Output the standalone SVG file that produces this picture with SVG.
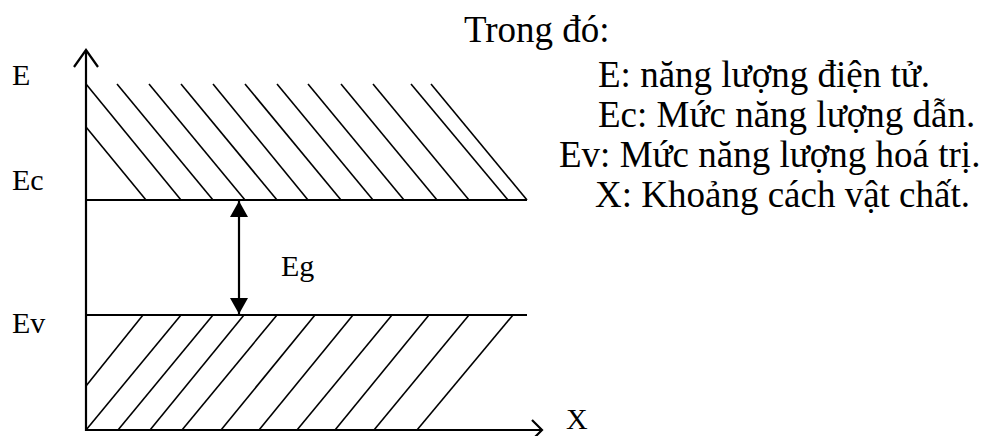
<svg xmlns="http://www.w3.org/2000/svg" width="983" height="436" viewBox="0 0 983 436">
<style>
text { font-family: "Liberation Serif", "Times New Roman", serif; fill: #000; }
.lbl { font-size: 30px; }
.leg { font-size: 37px; }
.axis { stroke: #000; stroke-width: 2.2; fill: none; }
.lvl { stroke: #000; stroke-width: 2; fill: none; }
.hatch { stroke: #000; stroke-width: 1.6; fill: none; }
.gap { stroke: #000; stroke-width: 2.2; fill: none; }
</style>
<defs>
<marker id="tri" viewBox="0 0 16 18" refX="16" refY="9" markerWidth="16" markerHeight="18" markerUnits="userSpaceOnUse" orient="auto-start-reverse">
<path d="M0,0 L16,9 L0,18 Z" fill="#000"/>
</marker>
</defs>
<g id="axes">
<line class="axis" x1="86" y1="50" x2="86" y2="431"/>
<polyline class="axis" points="74,67 86,50 98,67"/>
<line class="axis" x1="85" y1="430" x2="542" y2="430"/>
<polyline class="axis" points="532,420 542,430 532,440"/>
</g>
<g id="conduction-band">
<line class="lvl" x1="86" y1="200" x2="527" y2="200"/>
<g class="hatch">
<line x1="86" y1="127" x2="146" y2="200"/>
<line x1="86" y1="84" x2="181" y2="200"/>
<line x1="117" y1="84" x2="213" y2="200"/>
<line x1="149" y1="84" x2="245" y2="200"/>
<line x1="181" y1="84" x2="277" y2="200"/>
<line x1="213" y1="84" x2="308" y2="200"/>
<line x1="245" y1="84" x2="341" y2="200"/>
<line x1="277" y1="84" x2="373" y2="200"/>
<line x1="308" y1="84" x2="404" y2="200"/>
<line x1="341" y1="84" x2="437" y2="200"/>
<line x1="373" y1="84" x2="469" y2="200"/>
<line x1="411" y1="84" x2="508" y2="200"/>
<line x1="431" y1="84" x2="527" y2="200"/>
</g>
</g>
<g id="valence-band">
<line class="lvl" x1="86" y1="315" x2="527" y2="315"/>
<g class="hatch">
<line x1="86" y1="386" x2="143" y2="315"/>
<line x1="86" y1="430" x2="181" y2="315"/>
<line x1="118" y1="430" x2="213" y2="315"/>
<line x1="150" y1="430" x2="244" y2="315"/>
<line x1="182" y1="430" x2="277" y2="315"/>
<line x1="221" y1="430" x2="315" y2="315"/>
<line x1="259" y1="430" x2="353" y2="315"/>
<line x1="297" y1="430" x2="392" y2="315"/>
<line x1="335" y1="430" x2="429" y2="315"/>
<line x1="374" y1="430" x2="469" y2="315"/>
<line x1="417" y1="430" x2="513" y2="315"/>
</g>
</g>
<g id="connectors">
<line class="gap" x1="239" y1="201" x2="239" y2="314" marker-start="url(#tri)" marker-end="url(#tri)"/>
</g>
<g id="labels">
<text class="lbl" x="12" y="85">E</text>
<text class="lbl" x="12" y="190">Ec</text>
<text class="lbl" x="12" y="333">Ev</text>
<text class="lbl" x="281" y="276">Eg</text>
<text class="lbl" x="566" y="429">X</text>
</g>
<g id="legend">
<text class="leg" x="464" y="42">Trong đó:</text>
<text class="leg" x="598" y="87">E: năng lượng điện tử.</text>
<text class="leg" x="598" y="127">Ec: Mức năng lượng dẫn.</text>
<text class="leg" x="559" y="167">Ev: Mức năng lượng hoá trị.</text>
<text class="leg" x="595" y="207">X: Khoảng cách vật chất.</text>
</g>
</svg>
